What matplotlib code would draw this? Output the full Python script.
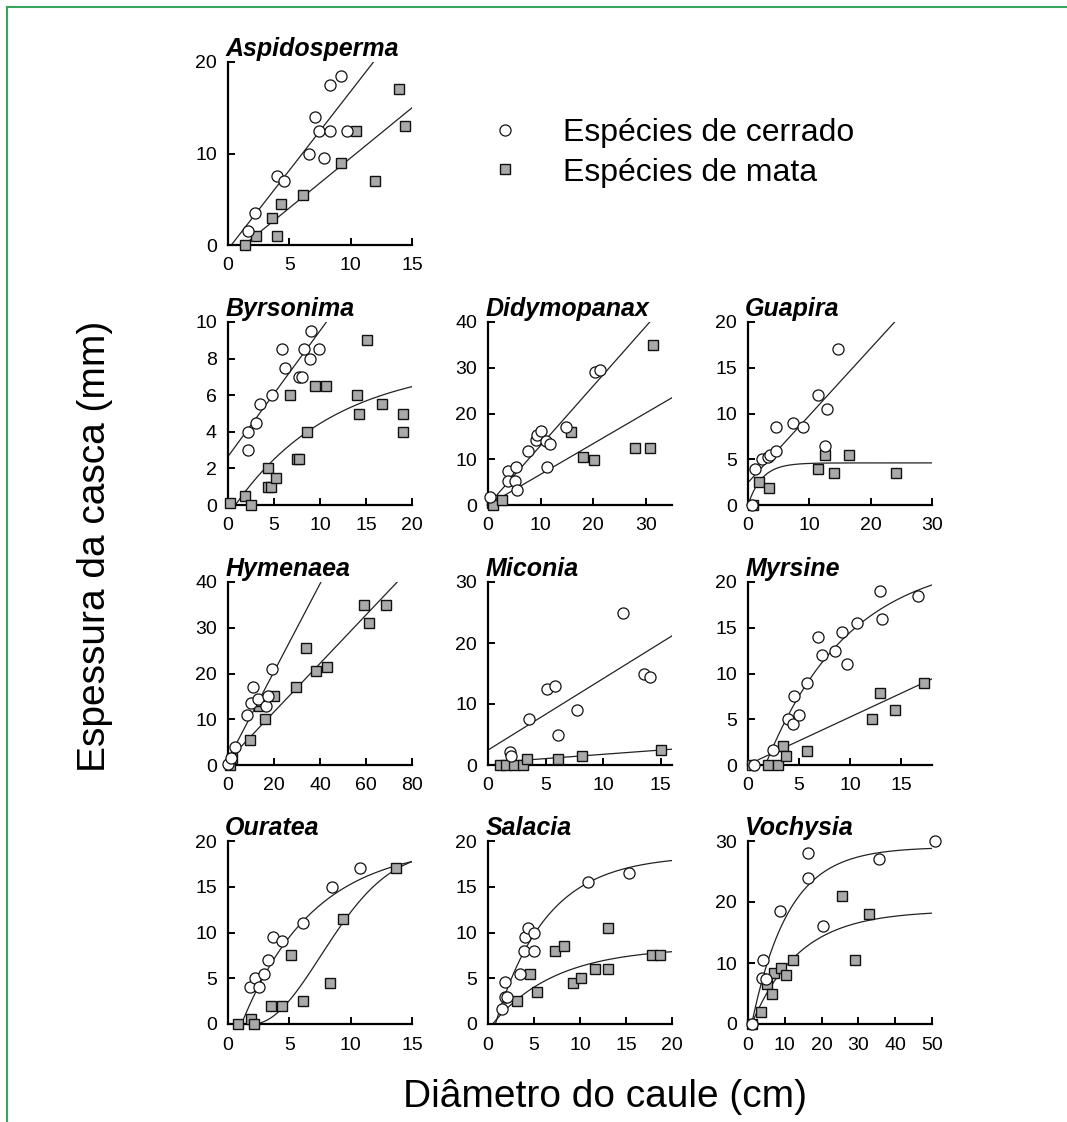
#!/usr/bin/env python3
# -*- coding: utf-8 -*-

import numpy as np
import matplotlib
matplotlib.use('Agg')
import matplotlib.pyplot as plt
from matplotlib.lines import Line2D

plt.rcParams['font.family'] = ['Liberation Sans', 'DejaVu Sans']

# ---- data: (diameter cm, bark thickness mm) -------------------------------
aspidosperma_cerrado = [(1.6, 1.5), (2.2, 3.5), (4.0, 7.5), (4.6, 7.0), (6.6, 10.0),
                        (7.1, 14.0), (7.4, 12.5), (7.8, 9.5), (8.3, 17.5), (8.3, 12.5),
                        (9.2, 18.5), (9.7, 12.5)]
aspidosperma_mata = [(1.4, 0.0), (2.3, 1.0), (4.0, 1.0), (3.6, 3.0), (4.3, 4.5),
                     (6.1, 5.5), (9.2, 9.0), (10.4, 12.5), (12.0, 7.0), (13.9, 17.0),
                     (14.4, 13.0)]

byrsonima_cerrado = [(2.2, 4.0), (2.2, 3.0), (3.0, 4.5), (3.5, 5.5), (4.8, 6.0),
                     (5.9, 8.5), (6.2, 7.5), (7.7, 7.0), (8.0, 7.0), (8.3, 8.5),
                     (8.9, 8.0), (9.0, 9.5), (9.9, 8.5)]
byrsonima_mata = [(0.2, 0.1), (1.8, 0.5), (2.5, 0.0), (4.4, 2.0), (4.4, 1.0),
                  (4.7, 1.0), (5.2, 1.5), (6.7, 6.0), (7.5, 2.5), (7.7, 2.5),
                  (8.6, 4.0), (9.5, 6.5), (10.7, 6.5), (14.0, 6.0), (14.2, 5.0),
                  (15.1, 9.0), (16.7, 5.5), (19.0, 5.0), (19.0, 4.0)]

didymopanax_cerrado = [(0.3, 1.8), (3.8, 7.5), (3.8, 5.3), (5.3, 8.3), (5.1, 5.3),
                       (5.6, 3.2), (7.7, 11.9), (9.1, 14.2), (9.3, 15.4), (10.0, 16.1),
                       (11.0, 13.9), (11.8, 13.3), (11.3, 8.4), (14.9, 17.1),
                       (20.4, 29.0), (21.3, 29.5)]
didymopanax_mata = [(0.8, 0.5), (1.0, 0.0), (2.7, 1.2), (15.8, 15.9), (18.0, 10.4),
                    (20.2, 9.9), (28.0, 12.4), (30.8, 12.4), (31.3, 35.0)]

guapira_cerrado = [(0.6, 0.0), (1.2, 3.9), (2.3, 5.0), (3.3, 5.3), (3.6, 5.5),
                   (4.6, 5.9), (4.6, 8.5), (7.3, 9.0), (8.9, 8.5), (11.4, 12.0),
                   (12.8, 10.5), (12.5, 6.5), (14.7, 17.0)]
guapira_mata = [(0.8, 0.0), (1.8, 2.5), (3.4, 1.9), (11.4, 3.9), (12.6, 5.5),
                (14.1, 3.5), (16.5, 5.5), (24.1, 3.5)]

hymenaea_cerrado = [(0.0, 0.2), (1.5, 1.5), (2.9, 4.0), (8.1, 11.0), (10.0, 13.5),
                    (10.7, 17.0), (12.9, 14.5), (16.6, 13.0), (17.6, 15.0), (19.1, 21.0)]
hymenaea_mata = [(0.7, 0.0), (1.9, 1.6), (9.5, 5.5), (13.5, 13.0), (14.0, 14.0),
                 (15.9, 10.0), (19.8, 15.0), (29.7, 17.0), (34.1, 25.5), (38.2, 20.5),
                 (43.0, 21.5), (59.0, 35.0), (61.2, 31.0), (68.6, 35.0)]

miconia_cerrado = [(1.9, 2.2), (2.0, 1.5), (3.6, 7.5), (5.1, 12.4), (5.8, 13.0),
                   (6.1, 5.0), (7.7, 9.0), (11.7, 25.0), (13.6, 15.0), (14.1, 14.5)]
miconia_mata = [(1.0, 0.0), (1.6, 0.0), (2.3, 0.0), (3.0, 0.0), (3.4, 1.0),
                (6.1, 1.0), (8.2, 1.5), (15.0, 2.5)]

myrsine_cerrado = [(0.6, 0.0), (2.4, 1.6), (3.9, 5.0), (4.4, 4.5), (4.5, 7.5),
                   (5.0, 5.5), (5.8, 9.0), (6.8, 14.0), (7.2, 12.0), (8.5, 12.5),
                   (9.2, 14.5), (9.7, 11.0), (10.7, 15.5), (12.9, 19.0), (13.1, 16.0),
                   (16.6, 18.5)]
myrsine_mata = [(0.4, 0.0), (2.0, 0.0), (2.9, 0.0), (3.4, 2.1), (3.7, 1.0),
                (5.8, 1.5), (12.1, 5.0), (12.9, 7.9), (14.4, 6.0), (17.2, 9.0)]

ouratea_cerrado = [(1.8, 4.0), (2.2, 5.0), (2.5, 4.0), (2.9, 5.5), (3.3, 7.0),
                   (3.7, 9.5), (4.4, 9.1), (6.1, 11.0), (8.5, 15.0), (10.8, 17.0)]
ouratea_mata = [(0.8, 0.0), (1.9, 0.6), (2.1, 0.0), (3.5, 2.0), (4.4, 2.0),
                (5.1, 7.5), (6.1, 2.5), (8.3, 4.5), (9.4, 11.5), (13.7, 17.0)]

salacia_cerrado = [(1.5, 1.6), (1.9, 4.6), (1.9, 3.0), (2.1, 3.0), (3.5, 5.5),
                   (3.9, 8.0), (4.0, 9.5), (4.3, 10.5), (5.0, 10.0), (5.0, 8.0),
                   (10.9, 15.5), (15.3, 16.5)]
salacia_mata = [(3.2, 2.5), (4.6, 5.5), (5.3, 3.5), (7.3, 8.0), (8.3, 8.5),
                (9.2, 4.5), (10.1, 5.0), (11.6, 6.0), (13.0, 6.0), (13.0, 10.5),
                (17.8, 7.5), (18.7, 7.5)]

vochysia_cerrado = [(1.0, 0.0), (4.0, 10.5), (3.8, 7.5), (4.9, 7.3), (8.6, 18.5),
                    (16.3, 24.0), (16.3, 28.0), (20.4, 16.0), (35.5, 27.0), (50.9, 30.0)]
vochysia_mata = [(1.0, 0.0), (3.5, 2.0), (5.2, 6.5), (6.6, 5.0), (7.2, 8.4),
                 (9.1, 9.1), (10.2, 8.0), (12.3, 10.5), (25.5, 21.0), (29.2, 10.5),
                 (33.0, 18.0)]

# fitted curves: ('lin', x_start, slope, intercept)
#                ('exp', x0, asymptote, rate)
#                ('weib', x0, asymptote, scale, shape)
aspidosperma_fits = [('lin', 0.27, 1.726, -0.47), ('lin', 1.3, 1.095, -1.43)]
byrsonima_fits = [('lin', 0.0, 0.687, 2.65), ('exp', 0.8, 7.8, 0.092)]
didymopanax_fits = [('lin', 0.5, 1.30, 0.0), ('lin', 0.5, 0.67, 0.0)]
guapira_fits = [('lin', 0.0, 0.734, 2.45), ('exp', 0.0, 4.6, 0.44)]
hymenaea_fits = [('lin', 0.0, 0.96, 1.2), ('lin', 0.0, 0.53, 1.0)]
miconia_fits = [('lin', 0.0, 1.17, 2.45), ('lin', 0.7, 0.14, 0.35)]
myrsine_fits = [('exp', 1.7, 22.8, 0.122), ('lin', 1.0, 0.52, 0.05)]
ouratea_fits = [('exp', 1.1, 19.6, 0.17), ('weib', 2.0, 19.0, 7.88, 2.0)]
salacia_fits = [('exp', 0.8, 18.45, 0.18), ('exp', 0.5, 8.4, 0.145)]
vochysia_fits = [('exp', 1.0, 29.0, 0.10), ('exp', 1.0, 18.6, 0.077)]

# name, cerrado, mata, fits, xmax, ymax, xticks, yticks
panels = [
    ('Aspidosperma', aspidosperma_cerrado, aspidosperma_mata, aspidosperma_fits,
     15, 20, [0, 5, 10, 15], [0, 10, 20]),
    ('Byrsonima', byrsonima_cerrado, byrsonima_mata, byrsonima_fits,
     20, 10, [0, 5, 10, 15, 20], [0, 2, 4, 6, 8, 10]),
    ('Didymopanax', didymopanax_cerrado, didymopanax_mata, didymopanax_fits,
     35, 40, [0, 10, 20, 30], [0, 10, 20, 30, 40]),
    ('Guapira', guapira_cerrado, guapira_mata, guapira_fits,
     30, 20, [0, 10, 20, 30], [0, 5, 10, 15, 20]),
    ('Hymenaea', hymenaea_cerrado, hymenaea_mata, hymenaea_fits,
     80, 40, [0, 20, 40, 60, 80], [0, 10, 20, 30, 40]),
    ('Miconia', miconia_cerrado, miconia_mata, miconia_fits,
     16, 30, [0, 5, 10, 15], [0, 10, 20, 30]),
    ('Myrsine', myrsine_cerrado, myrsine_mata, myrsine_fits,
     18, 20, [0, 5, 10, 15], [0, 5, 10, 15, 20]),
    ('Ouratea', ouratea_cerrado, ouratea_mata, ouratea_fits,
     15, 20, [0, 5, 10, 15], [0, 5, 10, 15, 20]),
    ('Salacia', salacia_cerrado, salacia_mata, salacia_fits,
     20, 20, [0, 5, 10, 15, 20], [0, 5, 10, 15, 20]),
    ('Vochysia', vochysia_cerrado, vochysia_mata, vochysia_fits,
     50, 30, [0, 10, 20, 30, 40, 50], [0, 10, 20, 30]),
]

# ---- layout (pixels) ------------------------------------------------------
W, H = 1067, 1122
COL_LEFT = [228, 488, 748]
ROW_TOP = [62, 322, 582, 841]
AX_W, AX_H = 184, 183
GRID = [(0, 0), (1, 0), (1, 1), (1, 2), (2, 0), (2, 1), (2, 2),
        (3, 0), (3, 1), (3, 2)]
GRAY = '#a9a9a9'


def fit_curve(fit, xmax):
    kind, x0 = fit[0], fit[1]
    x = np.linspace(x0, xmax, 300)
    if kind == 'lin':
        y = fit[2] * x + fit[3]
    elif kind == 'exp':
        y = fit[2] * (1 - np.exp(-fit[3] * (x - x0)))
    else:
        y = fit[2] * (1 - np.exp(-((x - x0) / fit[3]) ** fit[4]))
    return x, y


def draw_panel(ax, name, cerrado, mata, fits, xmax, ymax, xticks, yticks):
    for fit in fits:
        x, y = fit_curve(fit, xmax)
        ax.plot(x, y, color='#222222', lw=0.9, zorder=2)

    mx, my = zip(*mata)
    ax.plot(mx, my, ls='none', marker='s', ms=6.5, mfc=GRAY, mec='#111111',
            mew=1.0, clip_on=False, zorder=3)
    cx, cy = zip(*cerrado)
    ax.plot(cx, cy, ls='none', marker='o', ms=8, mfc='white', mec='#111111',
            mew=0.9, clip_on=False, zorder=4)

    ax.set_xlim(0, xmax)
    ax.set_ylim(0, ymax)
    ax.set_xticks(xticks)
    ax.set_yticks(yticks)
    for side in ('top', 'right'):
        ax.spines[side].set_visible(False)
    for side in ('left', 'bottom'):
        ax.spines[side].set_linewidth(1.6)
    ax.tick_params(direction='in', length=5, width=1.4, labelsize=14)
    ax.tick_params(axis='x', pad=9)
    ax.tick_params(axis='y', pad=8)
    ax.text(-0.015, 1.035, name, transform=ax.transAxes, ha='left', va='baseline',
            fontsize=18, fontweight='bold', fontstyle='italic')


def main():
    fig = plt.figure(figsize=(W / 100, H / 100), dpi=100)

    for (row, col), panel in zip(GRID, panels):
        left = COL_LEFT[col] / W
        bottom = 1 - (ROW_TOP[row] + AX_H) / H
        ax = fig.add_axes([left, bottom, AX_W / W, AX_H / H])
        draw_panel(ax, *panel)

    handles = [
        Line2D([], [], ls='none', marker='o', ms=8, mfc='white', mec='#111111', mew=0.9),
        Line2D([], [], ls='none', marker='s', ms=6.5, mfc=GRAY, mec='#111111', mew=1.0),
    ]
    fig.legend(handles, ['Espécies de cerrado', 'Espécies de mata'],
               loc='upper left', bbox_to_anchor=(489 / W, 1 - 118 / H),
               frameon=False, fontsize=23, handlelength=1.0, handletextpad=1.32,
               labelspacing=0.3, borderpad=0, borderaxespad=0)

    fig.text(95 / W, 1 - 546 / H, 'Espessura da casca (mm)', rotation=90,
             ha='center', va='center', fontsize=28)
    fig.text(605 / W, 1 - 1097 / H, 'Diâmetro do caule (cm)',
             ha='center', va='center', fontsize=28)

    green = '#3aa45c'
    fig.add_artist(Line2D([7 / W, 1], [1 - 7 / H] * 2, color=green, lw=1.5,
                          transform=fig.transFigure))
    fig.add_artist(Line2D([7 / W] * 2, [0, 1 - 7 / H], color=green, lw=1.5,
                          transform=fig.transFigure))

    fig.savefig('out.png', dpi=100)


if __name__ == '__main__':
    main()
